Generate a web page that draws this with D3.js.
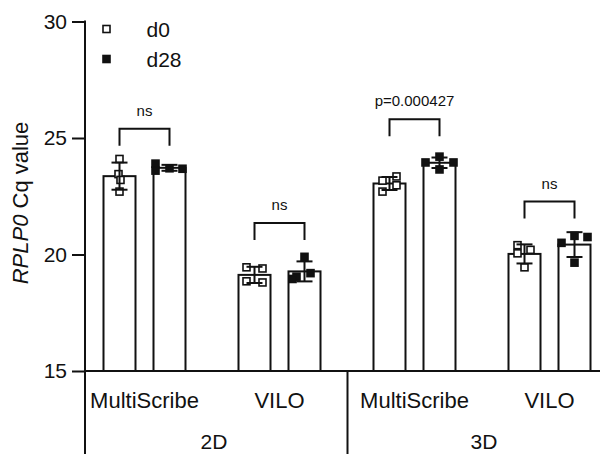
<!DOCTYPE html>
<html>
<head>
<meta charset="utf-8">
<script src="https://cdn.jsdelivr.net/npm/d3@7/dist/d3.min.js"></script>
<style>
  html, body { margin: 0; padding: 0; background: #fff; }
  svg { display: block; font-family: "Liberation Sans", Arial, sans-serif; }
</style>
</head>
<body>
<svg id="chart" width="600" height="454"></svg>
<script>
// ---------- data ----------
const groups = ["2D", "3D"];
const methods = ["MultiScribe", "VILO"];
const categories = ["2D MultiScribe", "2D VILO", "3D MultiScribe", "3D VILO"];
const series = ["d0", "d28"];
const yTicks = [15, 20, 25, 30];

// replicate Cq values per category
const d0Values = [
  [24.1, 23.45, 23.2, 22.7],
  [19.45, 19.4, 18.85, 18.8],
  [23.35, 23.17, 22.97, 22.7],
  [20.4, 20.05, 20.2, 19.45]
];
const d28Values = [
  [23.9, 23.6, 23.7, 23.68],
  [19.9, 19.05, 19.2, 18.95],
  [24.2, 23.95, 23.95, 23.65],
  [20.5, 20.8, 20.75, 19.65]
];
// significance annotations
const sigLabels = ["ns", "ns", "p=0.000427", "ns"];
const sigLevels = [25.4, 21.35, 25.8, 22.27];

// small horizontal spread of replicate markers (style only, px)
const d0Spread = [[0, -1, 1, 0], [-8, 8, -8, 8], [7, -7, 7, -7], [-7, -7, 6, 0]];
const d28Spread = [[-14, -14, 0, 13], [0, -8, 6, -12], [0, -14, 14, 0], [-13, 0, 13, 0]];

// ---------- layout ----------
const svg = d3.select("#chart");
const ink = "#111";
const axisX = 85;
const baseY = 371;

const y = d3.scaleLinear().domain([15, 30]).range([371, 21.5]);
const x = d3.scaleBand().domain(categories).range([77, 617]).paddingInner(0).paddingOuter(0);
const xi = d3.scaleBand().domain(series).range([26.5, 108.5]).paddingInner(0.36).paddingOuter(0);

const valuesBySeries = { d0: d0Values, d28: d28Values };
const spreadBySeries = { d0: d0Spread, d28: d28Spread };

// y axis
const yAxis = d3.axisLeft(y).tickValues(yTicks).tickSize(13).tickPadding(5).tickFormat(d3.format("d"));
const gy = svg.append("g").attr("transform", `translate(${axisX},0)`).call(yAxis);
gy.select(".domain").remove();
gy.selectAll(".tick line").attr("stroke", ink).attr("stroke-width", 2);
gy.selectAll(".tick text").attr("fill", ink).style("font-size", "21px")
  .style("font-family", '"Liberation Sans", Arial, sans-serif');
svg.append("line").attr("x1", axisX).attr("x2", axisX).attr("y1", y(30) - 1).attr("y2", 454)
  .attr("stroke", ink).attr("stroke-width", 2);

// x baseline
svg.append("line").attr("x1", axisX).attr("x2", 600).attr("y1", baseY).attr("y2", baseY)
  .attr("stroke", ink).attr("stroke-width", 2);
// group separator
svg.append("line").attr("x1", 347.5).attr("x2", 347.5).attr("y1", baseY).attr("y2", 454)
  .attr("stroke", ink).attr("stroke-width", 2);

// y title
svg.append("text")
  .attr("transform", `translate(28,203) rotate(-90)`)
  .attr("text-anchor", "middle")
  .style("font-size", "22px").attr("fill", ink)
  .call(t => {
    t.append("tspan").style("font-style", "italic").text("RPLP0");
    t.append("tspan").text(" Cq value");
  });

// bars, points, error bars
categories.forEach((cat, ci) => {
  series.forEach(s => {
    const vals = valuesBySeries[s][ci];
    const m = d3.mean(vals);
    const sd = d3.deviation(vals);
    const x0 = x(cat) + xi(s);
    const w = xi.bandwidth();
    const cx = x0 + w / 2;
    svg.append("rect")
      .attr("x", x0).attr("y", y(m)).attr("width", w).attr("height", baseY - y(m))
      .attr("fill", "#fff").attr("stroke", ink).attr("stroke-width", 2);
    // points
    const sz = 7;
    vals.forEach((v, k) => {
      svg.append("rect")
        .attr("x", cx + spreadBySeries[s][ci][k] - sz / 2).attr("y", y(v) - sz / 2)
        .attr("width", sz).attr("height", sz)
        .attr("fill", s === "d0" ? "#fff" : ink)
        .attr("stroke", ink).attr("stroke-width", 1.6);
    });
    // error bar (mean ± SD)
    const eb = svg.append("g").attr("stroke", ink).attr("stroke-width", 2);
    eb.append("line").attr("x1", cx).attr("x2", cx).attr("y1", y(m + sd)).attr("y2", y(m - sd));
    eb.append("line").attr("x1", cx - 8).attr("x2", cx + 8).attr("y1", y(m + sd)).attr("y2", y(m + sd));
    eb.append("line").attr("x1", cx - 8).attr("x2", cx + 8).attr("y1", y(m - sd)).attr("y2", y(m - sd));
  });

  // significance bracket
  const xa = x(cat) + xi("d0") + xi.bandwidth() / 2;
  const xb = x(cat) + xi("d28") + xi.bandwidth() / 2;
  const yb = y(sigLevels[ci]);
  svg.append("path")
    .attr("d", `M${xa},${yb + 17}V${yb}H${xb}V${yb + 17}`)
    .attr("fill", "none").attr("stroke", ink).attr("stroke-width", 2);
  svg.append("text")
    .attr("x", (xa + xb) / 2).attr("y", yb - 13)
    .attr("text-anchor", "middle").style("font-size", "15px").attr("fill", ink)
    .text(sigLabels[ci]);

  // category label
  svg.append("text")
    .attr("x", x(cat) + x.bandwidth() / 2).attr("y", 408)
    .attr("text-anchor", "middle").style("font-size", "22px").attr("fill", ink)
    .text(methods[ci % 2]);
});

// group labels
groups.forEach((g, gi) => {
  const c1 = x(categories[gi * 2]) + x.bandwidth() / 2;
  const c2 = x(categories[gi * 2 + 1]) + x.bandwidth() / 2;
  svg.append("text")
    .attr("x", (c1 + c2) / 2 + 2).attr("y", 449)
    .attr("text-anchor", "middle").style("font-size", "21px").attr("fill", ink)
    .text(g);
});

// legend
series.forEach((s, i) => {
  const ly = 29 + i * 30;
  svg.append("rect")
    .attr("x", 106.5 - 3.5).attr("y", ly - 3.5).attr("width", 7).attr("height", 7)
    .attr("fill", s === "d0" ? "#fff" : ink).attr("stroke", ink).attr("stroke-width", 1.6);
  svg.append("text")
    .attr("x", 146.5).attr("y", ly + 7.5)
    .style("font-size", "21px").attr("fill", ink)
    .text(s);
});
</script>
</body>
</html>
